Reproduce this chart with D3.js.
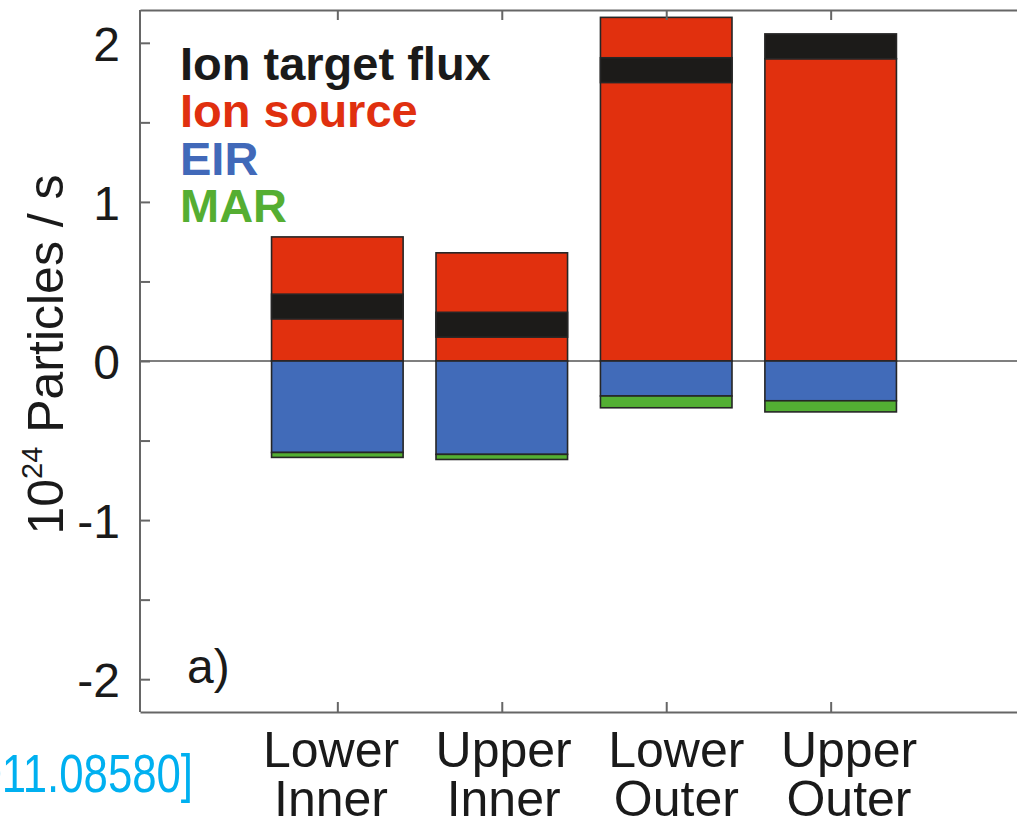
<!DOCTYPE html>
<html>
<head>
<meta charset="utf-8">
<script src="https://cdn.jsdelivr.net/npm/d3@7"></script>
<style>
  html, body { margin: 0; padding: 0; background: #fff; }
  svg { display: block; }
  text { font-family: "Liberation Sans", Arial, Helvetica, sans-serif; }
</style>
</head>
<body>
<svg id="chart" width="1017" height="823"></svg>
<script>
// Particle balance per divertor leg (units of 1e24 particles / s)
const categories   = [["Lower", "Inner"], ["Upper", "Inner"], ["Lower", "Outer"], ["Upper", "Outer"]];
const ionSource    = [0.78, 0.68, 2.16, 1.90];
const ionTarget    = [0.342, 0.228, 1.828, 1.978];
const eir          = [0.575, 0.587, 0.22, 0.25];
const mar          = [0.031, 0.032, 0.074, 0.07];
const yTickValues  = [-2, -1.5, -1, -0.5, 0, 0.5, 1, 1.5, 2];
const legendItems  = ["Ion target flux", "Ion source", "EIR", "MAR"];

const colors = {
  target: "#1c1b19",
  source: "#e1300e",
  eir:    "#416bb9",
  mar:    "#53af33"
};
const legendColors = ["#1a1a1a", "#e0300f", "#4169b9", "#55ae32"];

const svg = d3.select("#chart");

const plot = { left: 140, right: 1028, top: 11, bottom: 711 };
const x = d3.scaleLinear().domain([-0.2, 5.2]).range([plot.left, plot.right]);
const y = d3.scaleLinear().domain([-2.2, 2.2]).range([plot.bottom, plot.top]);
// category captions sit on a slightly wider pitch than the ticks
const xLabel = d3.scaleLinear().domain([1, 4]).range([331, 849]);

const barHalf = 0.4;      // bar half-width in category units
const bandHalf = 0.078;   // half thickness of the target-flux band

// zero line
svg.append("line")
  .attr("x1", plot.left).attr("x2", plot.right)
  .attr("y1", y(0)).attr("y2", y(0))
  .attr("stroke", "#555").attr("stroke-width", 1.6);

const bars = svg.append("g").attr("class", "bars");
const barData = categories.map((c, i) => ({
  i: i + 1,
  source: ionSource[i],
  target: ionTarget[i],
  eir: eir[i],
  mar: mar[i]
}));

const rect = (g, cx, v0, v1, fill) => g.append("rect")
  .attr("x", x(cx - barHalf))
  .attr("width", x(cx + barHalf) - x(cx - barHalf))
  .attr("y", y(Math.max(v0, v1)))
  .attr("height", Math.abs(y(v0) - y(v1)))
  .attr("fill", fill)
  .attr("stroke", "#262626")
  .attr("stroke-width", 1.6);

barData.forEach(d => {
  const g = bars.append("g");
  rect(g, d.i, 0, d.source, colors.source);
  rect(g, d.i, 0, -d.eir, colors.eir);
  rect(g, d.i, -d.eir, -d.eir - d.mar, colors.mar);
  rect(g, d.i, d.target - bandHalf, d.target + bandHalf, colors.target);
});

// axes frame
const axisColor = "#666";
const fmt = d => Number.isInteger(d) ? String(d) : "";

const yAxis = svg.append("g")
  .attr("transform", `translate(${plot.left},0)`)
  .call(d3.axisLeft(y).tickValues(yTickValues).tickSizeInner(-10).tickSizeOuter(0).tickPadding(20).tickFormat(fmt));
yAxis.select(".domain").attr("stroke", axisColor).attr("stroke-width", 2)
  .attr("d", `M0,${plot.top - 1}V${plot.bottom + 1}`);
yAxis.selectAll(".tick line").attr("stroke", axisColor).attr("stroke-width", 2);
yAxis.selectAll(".tick text")
  .attr("font-size", 48).attr("fill", "#1a1a1a")
  .attr("dy", "0.36em");

const yAxisR = svg.append("g")
  .attr("transform", `translate(${plot.right},0)`)
  .call(d3.axisRight(y).tickValues(yTickValues).tickSizeInner(-10).tickSizeOuter(0).tickFormat(""));
yAxisR.selectAll("path, line").attr("stroke", axisColor).attr("stroke-width", 2);

const xTop = svg.append("g")
  .attr("transform", `translate(0,${plot.top - 1})`)
  .call(d3.axisTop(x).tickValues(d3.range(1, categories.length + 1)).tickSizeInner(-10).tickSizeOuter(0).tickFormat(""));
xTop.selectAll("path, line").attr("stroke", axisColor).attr("stroke-width", 2);

const xBottom = svg.append("g")
  .attr("transform", `translate(0,${plot.bottom + 1})`)
  .call(d3.axisBottom(x).tickValues(d3.range(1, categories.length + 1)).tickSizeInner(-10).tickSizeOuter(0).tickFormat(""));
xBottom.selectAll("path, line").attr("stroke", axisColor).attr("stroke-width", 2);

// two-line category labels under the bottom axis
const catLabels = svg.append("g");
categories.forEach((lines, i) => {
  const t = catLabels.append("text")
    .attr("x", xLabel(i + 1)).attr("text-anchor", "middle")
    .attr("font-size", 50).attr("fill", "#1a1a1a");
  lines.forEach((s, k) => t.append("tspan")
    .attr("x", xLabel(i + 1)).attr("y", 767 + k * 49).text(s));
});

// y axis title with superscript exponent
const yTitle = svg.append("text")
  .attr("transform", `translate(63,${(177 + 532) / 2}) rotate(-90)`)
  .attr("text-anchor", "middle")
  .attr("font-size", 50).attr("fill", "#1a1a1a");
yTitle.append("tspan").text("10");
yTitle.append("tspan").attr("font-size", 29).attr("dy", -21).text("24");
yTitle.append("tspan").attr("dy", 21).text(" Particles / s");

// legend
const legend = svg.append("g").attr("font-weight", "bold").attr("font-size", 47);
legendItems.forEach((s, k) => legend.append("text")
  .attr("x", 180).attr("y", 80 + k * 47.3)
  .attr("fill", legendColors[k]).text(s));

// panel tag
svg.append("text").attr("x", 187).attr("y", 683)
  .attr("font-size", 48).attr("fill", "#1a1a1a").text("a)");

// citation fragment at the lower left
svg.append("text")
  .attr("transform", "translate(193,792) scale(0.81,1)")
  .attr("text-anchor", "end")
  .attr("font-family", "'Open Sans', 'Noto Sans', sans-serif")
  .attr("font-size", 54).attr("fill", "#00b0f0")
  .text("arXiv:2011.08580]");
</script>
</body>
</html>
